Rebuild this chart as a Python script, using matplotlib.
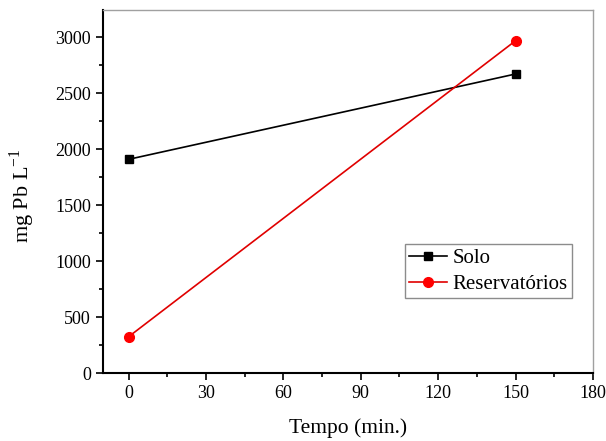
import matplotlib
matplotlib.use("Agg")
import matplotlib.pyplot as plt
from matplotlib.ticker import MultipleLocator

plt.rcParams['font.family'] = ['Liberation Serif', 'DejaVu Serif']
plt.rcParams['mathtext.fontset'] = 'custom'
plt.rcParams['mathtext.rm'] = 'Liberation Serif'

tempo = [0, 150]
solo = [1908, 2670]
reservatorios = [324, 2967]

fig = plt.figure(figsize=(6.06, 4.41), dpi=100)
ax = fig.add_axes([0.1695, 0.154, 0.809, 0.823])

ax.plot(tempo, solo, color='black', lw=1.2, marker='s', ms=6, label='Solo')
ax.plot(tempo, reservatorios, color='#e00000', lw=1.2, marker='o', ms=7,
        markerfacecolor='red', markeredgecolor='red', label='Reservatórios')

ax.set_xlim(-10, 180)
ax.set_ylim(0, 3240)
ax.xaxis.set_major_locator(MultipleLocator(30))
ax.xaxis.set_minor_locator(MultipleLocator(15))
ax.yaxis.set_major_locator(MultipleLocator(500))
ax.yaxis.set_minor_locator(MultipleLocator(250))

ax.tick_params(which='both', direction='out', top=False, right=False, labelsize=13, width=1.2)
ax.tick_params(which='major', length=5)
ax.tick_params(which='minor', length=3)

for s in ['left', 'bottom']:
    ax.spines[s].set_linewidth(1.5)
    ax.spines[s].set_color('black')
for s in ['top', 'right']:
    ax.spines[s].set_linewidth(1.0)
    ax.spines[s].set_color('#a0a0a0')

ax.set_xlabel('Tempo (min.)', fontsize=15.5, labelpad=12)
ax.set_ylabel(r'mg Pb L$^{-1}$', fontsize=16)
ax.yaxis.set_label_coords(-0.135, 0.49)

leg = ax.legend(loc='upper left', bbox_to_anchor=(0.617, 0.355), fontsize=15,
                frameon=True, fancybox=False, edgecolor='#707070',
                handlelength=1.8, handletextpad=0.28, borderpad=0.2,
                labelspacing=0.3, borderaxespad=0)
leg.get_frame().set_linewidth(1.0)

fig.savefig('out.png', dpi=100)
